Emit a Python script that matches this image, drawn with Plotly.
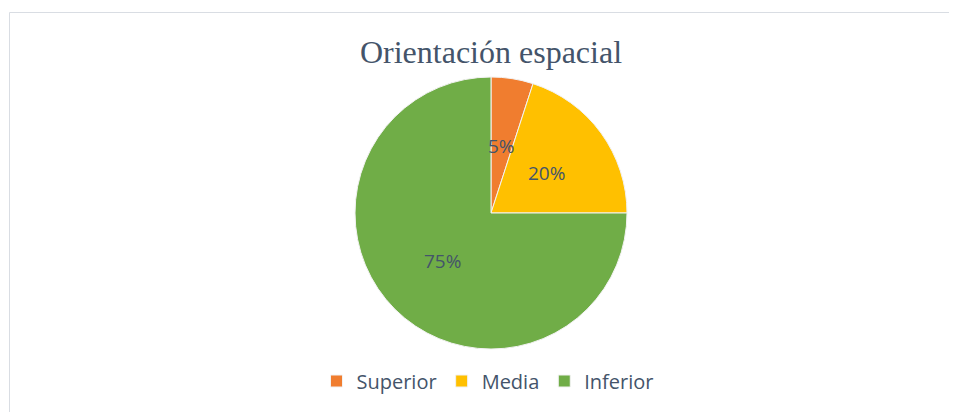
import numpy as np
import plotly.graph_objects as go

# data
categories = ['Superior', 'Media', 'Inferior']
values = [5, 20, 75]
colors = ['#F07D2F', '#FFC000', '#70AD47']

# page body has an 8px margin, so the figure starts at (8, 8) in the window
OFF = 8
W, H = 957 - OFF, 412 - OFF
cx, cy, r = 491 - OFF, 213 - OFF, 136   # pie centre / radius in px

text_color = '#44546A'

fig = go.Figure(go.Pie(
    labels=categories,
    values=values,
    sort=False,
    direction='clockwise',
    rotation=0,
    marker=dict(colors=colors, line=dict(color='#F2F2F2', width=1)),
    textinfo='none',
    hoverinfo='skip',
    domain=dict(x=[(cx - r) / W, (cx + r) / W],
                y=[1 - (cy + r) / H, 1 - (cy - r) / H]),
))

# percentage labels placed at mid-angle of each slice, half radius out
total = sum(values)
start = 0.0
annotations = []
for v in values:
    mid = np.deg2rad((start + v / 2) / total * 360)
    start += v
    px = cx + 0.5 * r * np.sin(mid)
    py = cy - 0.5 * r * np.cos(mid)
    annotations.append(dict(
        x=px / W, y=1 - py / H, xref='paper', yref='paper',
        text=f'{round(v / total * 100)}%', showarrow=False,
        font=dict(family='Open Sans', size=19, color=text_color)))

fig.update_layout(
    width=W, height=H,
    margin=dict(l=0, r=0, t=0, b=0),
    paper_bgcolor='white',
    title=dict(text='Orientación espacial', x=cx / W, xanchor='center',
               y=1 - (52 - OFF) / H, yanchor='middle',
               font=dict(family='Liberation Serif', size=32, color=text_color)),
    legend=dict(orientation='h', x=(cx - 3) / W, xanchor='center',
                y=1 - (381 - OFF) / H, yanchor='middle',
                font=dict(family='Open Sans', size=20, color=text_color)),
    annotations=annotations,
    shapes=[dict(type='rect', xref='paper', yref='paper',
                 x0=(9.5 - OFF) / W, x1=1.02, y0=-0.02, y1=1 - (12.5 - OFF) / H,
                 line=dict(color='#D9DDE3', width=1))],
)

fig.write_html('out.html')
